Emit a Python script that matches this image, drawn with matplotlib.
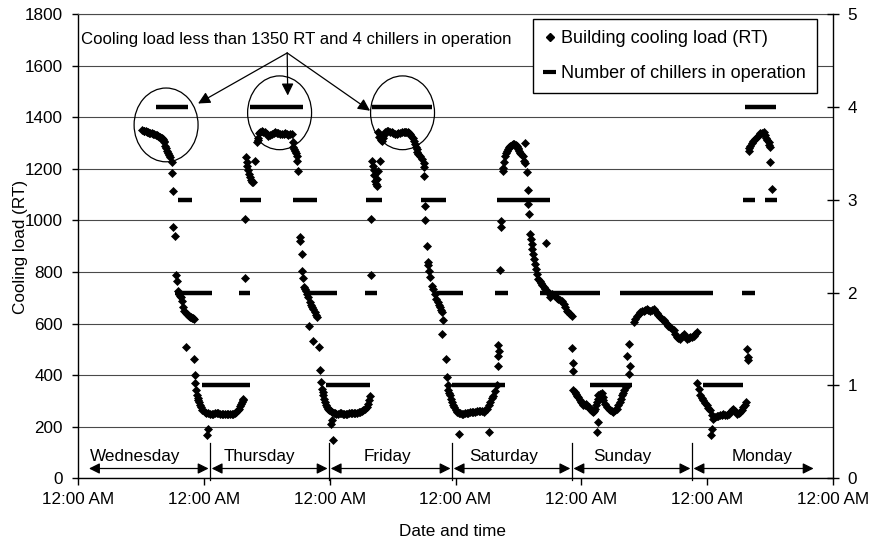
import matplotlib
matplotlib.use("Agg")
import matplotlib.pyplot as plt
from matplotlib.patches import Ellipse
from matplotlib.lines import Line2D
import numpy as np

plt.rcParams['font.family'] = ['Liberation Sans', 'DejaVu Sans']

# ---- building cooling load (RT), hour of day for each day ----
wed_hour = [12.27, 12.5, 12.65, 12.9, 13.1, 13.35, 13.55, 13.8, 14.05, 14.3, 14.56, 14.8, 15.01, 15.25,
            15.45, 15.65, 15.83, 16.0, 16.22, 16.35, 16.47, 16.6, 16.79, 16.92, 17.11, 17.36, 17.62,
            17.87, 18.0, 18.19, 18.19, 18.51, 18.7, 18.89, 19.02, 19.27, 19.45, 19.65, 19.91, 20.1,
            20.29, 20.54, 20.54, 20.75, 20.92, 21.15, 21.37, 21.6, 21.81, 22.0, 22.19, 22.19, 22.32,
            22.4, 22.51, 22.64, 22.8, 22.96, 23.1, 23.28, 23.5, 23.72]
wed_load = [1350, 1348, 1347, 1345, 1343, 1341, 1339, 1338, 1337, 1335, 1333, 1331, 1329, 1327,
            1325, 1323, 1321, 1318, 1314, 1308, 1302, 1289, 1280, 1270, 1262, 1254, 1244,
            1228, 1182, 1112, 976, 938, 788, 764, 728, 715, 708, 702, 689, 665,
            650, 640, 508, 638, 635, 630, 627, 624, 622, 620, 619, 463, 399,
            370, 341, 321, 312, 302, 295, 283, 275, 266]

thu_hour = [0.23, 0.45, 0.61, 0.74, 0.87, 1.2, 1.5, 1.8, 2.14, 2.45, 2.78, 3.1, 3.41, 3.7, 4.05, 4.35,
            4.68, 5.0, 5.32, 5.65, 5.95, 6.2, 6.46, 6.7, 6.91, 7.1, 7.23, 7.4, 7.54, 7.86, 7.86, 8.0,
            8.15, 8.3, 8.5, 8.65, 8.8, 8.95, 9.15, 9.35, 9.77, 10.09, 10.25, 10.4, 10.6, 10.8, 11.04,
            11.35, 11.68, 12.0, 12.3, 12.6, 12.95, 13.3, 13.6, 13.9, 14.2, 14.5, 14.86, 15.2, 15.5,
            15.8, 16.13, 16.45, 16.8, 16.95, 17.08, 17.25, 17.4, 17.55, 17.7, 17.85, 18.04, 18.3,
            18.35, 18.67, 18.8, 19.0, 19.1, 19.3, 19.5, 19.7, 19.9, 20.03, 20.26, 20.4, 20.58, 20.77,
            20.9, 21.2, 21.45, 21.66, 22.04, 22.17, 22.35, 22.49, 22.65, 22.8, 22.95, 23.1, 23.35,
            23.57, 23.75, 23.95]
thu_load = [257, 255, 166, 192, 253, 250, 248, 250, 253, 252, 253, 251, 250, 249, 248, 249,
            250, 249, 248, 250, 253, 258, 263, 270, 279, 288, 296, 302, 308, 776, 1005, 1244,
            1225, 1210, 1195, 1180, 1168, 1158, 1150, 1147, 1231, 1302, 1312, 1321, 1337, 1343, 1347,
            1344, 1341, 1335, 1328, 1330, 1334, 1338, 1341, 1340, 1337, 1335, 1334, 1336, 1337,
            1335, 1332, 1333, 1334, 1302, 1283, 1276, 1270, 1260, 1250, 1231, 1190, 935,
            921, 870, 805, 777, 741, 733, 728, 715, 702, 592, 683, 672, 663, 534,
            655, 644, 632, 624, 508, 418, 372, 347, 333, 321, 308, 296, 285,
            276, 268, 263]

fri_hour = [0.2, 0.2, 0.4, 0.5, 0.6, 0.75, 1.0, 1.3, 1.6, 1.9, 2.2, 2.5, 2.8, 3.1, 3.4, 3.7, 4.0,
            4.3, 4.6, 4.9, 5.2, 5.5, 5.8, 6.1, 6.4, 6.75, 7.07, 7.3, 7.5, 7.7, 7.9, 7.9, 8.0, 8.2,
            8.4, 8.5, 8.66, 8.8, 8.98, 9.1, 9.3, 9.6, 9.3, 9.5, 9.75, 9.93, 10.1, 10.25, 10.4, 10.57,
            10.9, 11.2, 11.5, 11.84, 12.15, 12.48, 12.8, 13.1, 13.4, 13.75, 14.1, 14.4, 14.65, 14.9,
            15.15, 15.34, 15.55, 15.8, 16.0, 16.2, 16.4, 16.6, 16.75, 16.93, 17.25, 17.6, 17.9, 18.07,
            18.07, 18.2, 18.2, 18.65, 18.71, 18.84, 18.97, 19.2, 19.47, 19.8, 20.0, 20.24, 20.6,
            20.85, 21.06, 21.3, 21.5, 21.7, 21.4, 22.14, 22.33, 22.5, 22.65, 22.8, 22.97, 23.2, 23.4,
            23.6, 23.8]
fri_load = [212, 260, 225, 257, 147, 255, 253, 251, 250, 252, 253, 251, 250, 250, 251, 252, 253,
            252, 253, 254, 255, 256, 257, 260, 265, 268, 275, 288, 302, 318, 788, 1005, 1231, 1210,
            1195, 1175, 1154, 1140, 1134, 1160, 1192, 1231, 1341, 1322, 1312, 1308, 1318, 1328, 1335, 1341,
            1345, 1347, 1344, 1341, 1337, 1334, 1335, 1337, 1339, 1341, 1341, 1341, 1342, 1343,
            1338, 1334, 1328, 1321, 1308, 1295, 1285, 1276, 1265, 1257, 1250, 1237, 1224, 1208,
            1173, 1057, 1001, 902, 837, 825, 805, 780, 747, 734, 715, 695, 683,
            672, 663, 652, 644, 612, 560, 463, 392, 360, 341, 330, 321, 308, 296,
            285, 276]

sat_hour = [0.0, 0.24, 0.6, 0.6, 0.9, 1.2, 1.5, 1.8, 2.1, 2.4, 2.75, 3.1, 3.4, 3.7, 4.05, 4.4, 4.7,
            5.0, 5.35, 5.65, 6.0, 6.3, 6.4, 6.6, 6.9, 7.24, 7.56, 7.87, 8.07, 8.2, 8.2, 8.3, 8.5, 8.7,
            8.7, 9.0, 9.15, 9.34, 9.5, 9.65, 9.8, 10.0, 10.2, 10.45, 10.7, 10.95, 11.2, 11.45, 11.7,
            11.85, 12.0, 12.15, 12.33, 12.55, 12.8, 13.0, 13.2, 13.3, 13.6, 13.8, 13.8, 14.05, 14.2,
            14.4, 14.55, 14.68, 14.87, 15.06, 15.2, 15.3, 15.5, 15.8, 16.05, 16.3, 16.55, 16.8, 17.2,
            17.1, 17.4, 17.6, 17.86, 18.05, 18.4, 18.7, 19.0, 19.3, 19.6, 19.95, 20.3, 20.6, 20.9,
            21.2, 21.55, 21.9, 22.2, 22.3, 22.45, 22.5, 22.5, 22.75, 23.0, 23.25, 23.45, 23.7, 23.9]
sat_load = [265, 257, 173, 252, 253, 251, 250, 253, 254, 255, 256, 257, 257, 258, 260, 261, 260,
            259, 258, 263, 270, 285, 179, 295, 310, 320, 338, 360, 437, 476, 515, 495, 809, 973,
            999, 1192, 1203, 1225, 1250, 1262, 1270, 1277, 1283, 1288, 1293, 1295, 1295, 1292, 1289,
            1282, 1276, 1270, 1263, 1257, 1250, 1231, 1298, 1221, 1186, 1117, 1063, 1025, 947,
            928, 908, 889, 870, 850, 831, 812, 792, 773, 765, 756, 748, 741, 911,
            735, 728, 722, 717, 702, 715, 710, 705, 700, 696, 692, 689, 676, 663,
            650, 643, 637, 631, 506, 447, 416, 341, 335, 328, 320, 315, 305, 296]

sun_hour = [0.15, 0.4, 0.65, 0.9, 1.15, 1.4, 1.6, 1.8, 2.0, 2.2, 2.4, 2.6, 2.8, 2.95, 3.1, 3.27,
            3.08, 3.27, 3.6, 3.9, 4.05, 4.2, 4.55, 4.9, 5.2, 5.5, 5.8, 6.1, 6.45, 6.8, 7.05, 7.3,
            7.5, 7.7, 7.95, 8.2, 8.55, 8.7, 9.0, 9.0, 9.3, 9.95, 10.3, 10.7, 10.95, 11.2, 11.55,
            11.9, 12.2, 12.5, 12.8, 13.1, 13.45, 13.8, 14.1, 14.4, 14.7, 15.0, 15.35, 15.7, 16.0,
            16.3, 16.6, 16.9, 17.25, 17.6, 17.9, 18.2, 18.5, 18.85, 19.2, 19.5, 19.8, 20.1, 20.45,
            20.8, 21.1, 21.4, 21.7, 22.0, 22.0, 22.35, 22.7, 23.0, 23.3, 23.6, 23.9]
sun_load = [290, 283, 286, 289, 282, 276, 270, 263, 259, 257, 262, 270, 283, 296, 308, 321,
            179, 218, 328, 330, 316, 302, 289, 276, 269, 263, 259, 257, 263, 270, 283, 296,
            308, 321, 331, 341, 354, 476, 405, 520, 437, 605, 618, 631, 638, 644, 647,
            650, 654, 657, 653, 650, 654, 657, 648, 640, 632, 624, 618, 612, 605,
            599, 592, 586, 580, 573, 560, 547, 544, 541, 550, 560, 550, 541, 544,
            547, 549, 550, 558, 567, 369, 345, 321, 311, 302, 292, 283]

mon_hour = [0.25, 0.6, 0.7, 0.9, 0.9, 1.2, 1.5, 1.8, 2.15, 2.5, 2.8, 3.1, 3.45, 3.8, 4.1, 4.4, 4.7,
            5.0, 5.35, 5.7, 6.0, 6.3, 6.6, 6.9, 7.15, 7.4, 7.6, 7.7, 7.75, 7.9, 8.05, 8.2, 8.5, 8.8,
            9.15, 9.5, 9.8, 10.1, 10.45, 10.75, 11.0, 11.26, 11.5, 11.7, 11.85, 12.0, 12.0, 12.3]
mon_load = [273, 263, 166, 192, 244, 231, 236, 240, 242, 244, 247, 250, 247, 244, 250, 257, 263,
            270, 260, 250, 253, 257, 266, 276, 286, 296, 502, 470, 457, 1270, 1280, 1289, 1298, 1308,
            1316, 1324, 1331, 1337, 1340, 1341, 1331, 1321, 1311, 1302, 1292, 1283, 1225, 1121]

# ---- number of chillers in operation (hours from Wednesday 00:00) ----
chiller_on = [14.9, 19.1, 18.5, 23.7, 30.9, 30.7, 32.8, 41.0, 44.3, 47.3, 54.9, 54.8, 56.1, 65.4,
              68.5, 71.4, 79.6, 79.9, 88.1, 97.7, 103.4, 119.2, 126.7, 126.9, 127.2, 131.1]
chiller_off = [21.0, 21.7, 25.6, 32.8, 34.9, 32.8, 42.9, 45.6, 49.4, 55.7, 58.0, 57.0, 67.5, 70.2,
               73.5, 81.5, 82.0, 90.0, 99.6, 105.7, 121.1, 126.9, 129.2, 129.2, 133.2, 133.4]
chiller_count = [4, 3, 2, 1, 3, 2, 4, 3, 2, 1, 3, 2, 4, 3,
                 2, 1, 2, 3, 2, 1, 2, 1, 2, 3, 4, 3]

day_names = ["Wednesday", "Thursday", "Friday", "Saturday", "Sunday", "Monday"]
day_label_hour = [10.9, 34.7, 58.95, 81.1, 103.8, 130.5]
day_bounds = [2.1, 25.2, 47.9, 71.35, 94.2, 117.1, 140.6]
tick_hours = [0, 24, 48, 72, 96, 120, 144]
tick_labels = ["12:00 AM"] * 7
load_ticks = list(range(0, 1801, 200))

fig = plt.figure(figsize=(8.72, 5.43), dpi=100)
ax = fig.add_axes([78 / 872, 1 - 478.3 / 543, (833 - 78) / 872, (478.3 - 14) / 543])
ax.set_xlim(0, 144)
ax.set_ylim(0, 1800)
ax.set_axisbelow(True)
ax.yaxis.grid(True, color='#4a4a4a', lw=0.8)
for s in ['left', 'bottom']:
    ax.spines[s].set_color('black')
    ax.spines[s].set_linewidth(1.0)
ax.spines['top'].set_color('#4a4a4a')
ax.spines['top'].set_linewidth(0.8)
ax.spines['right'].set_visible(False)

ax.set_xticks(tick_hours)
ax.set_xticklabels(tick_labels)
ax.set_yticks(load_ticks)
ax.tick_params(axis='x', direction='out', length=5, width=1, pad=5, labelsize=12.3)
ax.tick_params(axis='y', direction='out', length=4, width=1, pad=7, labelsize=12.3)

# load scatter
all_days = [(wed_hour, wed_load), (thu_hour, thu_load), (fri_hour, fri_load),
            (sat_hour, sat_load), (sun_hour, sun_load), (mon_hour, mon_load)]
for d, (h, l) in enumerate(all_days):
    ax.plot(np.array(h) + 24 * d, l, ls='none', marker='D', ms=4.3, color='black', mec='black', mew=0.5)

# chillers on secondary axis
ax2 = ax.twinx()
ax2.set_ylim(0, 5)
ax2.set_yticks([0, 1, 2, 3, 4, 5])
ax2.tick_params(axis='y', direction='inout', length=9, width=1, pad=6, labelsize=12.3)
for s in ['left', 'bottom', 'top']:
    ax2.spines[s].set_visible(False)
ax2.spines['right'].set_color('black')
ax2.spines['right'].set_linewidth(1.0)
ax2.hlines(chiller_count, chiller_on, chiller_off, colors='black', lw=3.2, capstyle='butt')

# highlighted periods
for cx, cy in [(16.8, 1370), (38.45, 1417), (61.9, 1417)]:
    ax.add_patch(Ellipse((cx, cy), 12.2, 286, fill=False, ec='black', lw=0.9, zorder=5))

ax.text(0.5, 1700, "Cooling load less than 1350 RT and 4 chillers in operation",
        fontsize=12.1, va='center', ha='left')
src = (39.9, 1649)
for tgt in [(22.9, 1453), (40.0, 1484), (55.7, 1425)]:
    ax.annotate("", xy=tgt, xytext=src,
                arrowprops=dict(arrowstyle='-|>', color='black', lw=0.9,
                                mutation_scale=18, shrinkA=0, shrinkB=0))

# day spans
for xb in day_bounds[1:-1]:
    ax.plot([xb, xb], [135, -8], color='black', lw=0.9, clip_on=False, zorder=4)
for i, name in enumerate(day_names):
    a = day_bounds[i] + (0.3 if i > 0 else 0)
    b = day_bounds[i + 1] - 0.3
    ax.annotate("", xy=(b, 38), xytext=(a, 38),
                arrowprops=dict(arrowstyle='<|-|>', color='black', lw=0.9,
                                mutation_scale=16, shrinkA=0, shrinkB=0))
    ax.text(day_label_hour[i], 85, name, fontsize=12.3, ha='center', va='center')

# legend
handles = [Line2D([], [], ls='none', marker='D', ms=3.8, color='black'),
           Line2D([], [], color='black', lw=3.0, solid_capstyle='butt')]
leg = ax2.legend(handles, ["Building cooling load (RT)", "Number of chillers in operation"],
                 loc='upper right', bbox_to_anchor=(817 / 872, 1 - 19 / 543),
                 bbox_transform=fig.transFigure, borderaxespad=0, fontsize=13,
                 frameon=True, fancybox=False, edgecolor='black', framealpha=1,
                 handlelength=0.7, handletextpad=0.3, labelspacing=1.0, borderpad=0.6)
leg.get_frame().set_linewidth(1.0)

fig.text(452 / 872, 1 - 531 / 543, "Date and time", fontsize=12.3, ha='center', va='center')
fig.text(20 / 872, 1 - 247 / 543, "Cooling load (RT)", fontsize=12.3, ha='center', va='center',
         rotation=90)

fig.savefig("out.png", dpi=100)
